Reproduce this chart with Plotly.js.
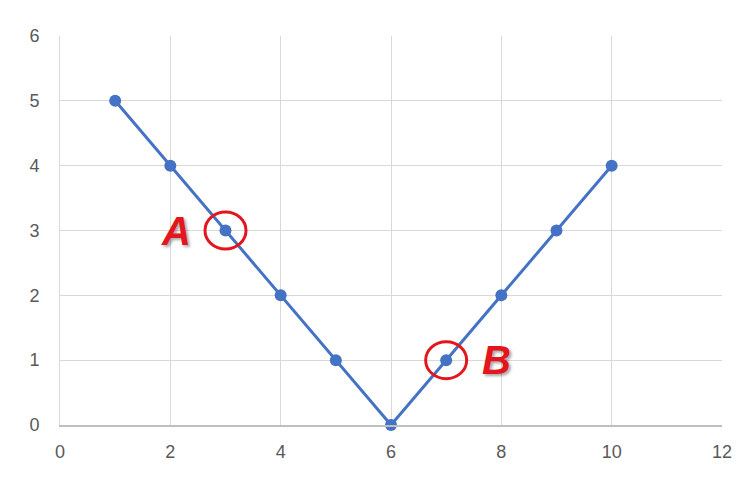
<!DOCTYPE html>
<html>
<head>
<meta charset="utf-8">
<script src="https://cdn.plot.ly/plotly-3.0.1.min.js"></script>
<style>html,body{margin:0;padding:0;background:#fff;}#chart{width:744px;height:484px;}</style>
</head>
<body>
<div id="chart"></div>
<script>
const xValues = [1, 2, 3, 4, 5, 6, 7, 8, 9, 10];
const yValues = [5, 4, 3, 2, 1, 0, 1, 2, 3, 4];
const markedX = [3, 7];
const markedY = [3, 1];
const labelText = ['A', 'B'];
const labelX = [2.1, 7.92];
const labelY = [3, 1];
const xTicks = [0, 2, 4, 6, 8, 10, 12];
const yTicks = [0, 1, 2, 3, 4, 5, 6];

const trace = {
  x: xValues, y: yValues, type: 'scatter', mode: 'lines+markers',
  line: {color: '#4472C4', width: 3},
  marker: {color: '#4472C4', size: 12},
  cliponaxis: false, hoverinfo: 'none'
};

const shapes = markedX.map((mx, i) => ({
  type: 'circle', xref: 'x', yref: 'y',
  xsizemode: 'pixel', ysizemode: 'pixel',
  xanchor: mx, yanchor: markedY[i],
  x0: -20.5, x1: 20.5, y0: -18.5, y1: 18.5,
  line: {color: '#E3161E', width: 3}
}));

const annotations = labelText.map((t, i) => ({
  x: labelX[i], y: labelY[i], xref: 'x', yref: 'y',
  text: '<b><i>' + t + '</i></b>', showarrow: false,
  font: {family: 'Liberation Sans, Arial, sans-serif', size: 40, color: '#E3161E',
         shadow: '2px 2px 3px rgba(0,0,0,0.35)'},
  xanchor: 'center', yanchor: 'middle'
}));

const layout = {
  width: 744, height: 484,
  margin: {l: 60, r: 22, t: 36, b: 59},
  paper_bgcolor: '#ffffff', plot_bgcolor: '#ffffff',
  showlegend: false,
  font: {family: 'Liberation Sans, Arial, sans-serif', size: 18, color: '#595959'},
  xaxis: {
    range: [0, 12], tickvals: xTicks, ticktext: xTicks.map(String),
    showgrid: true, gridcolor: '#d9d9d9', gridwidth: 1,
    zeroline: false, showline: true, linecolor: '#bfbfbf', linewidth: 1.5,
    mirror: false, ticks: '', ticklen: 0, ticklabelstandoff: 10,
    tickfont: {size: 18, color: '#595959'},
    fixedrange: true
  },
  yaxis: {
    range: [0, 6], tickvals: yTicks, ticktext: yTicks.map(String),
    showgrid: true, gridcolor: '#d9d9d9', gridwidth: 1,
    zeroline: false, showline: true, linecolor: '#d9d9d9', linewidth: 1,
    ticks: '', ticklabelstandoff: 16, tickfont: {size: 18, color: '#595959'},
    fixedrange: true
  },
  shapes: shapes,
  annotations: annotations
};

Plotly.newPlot('chart', [trace], layout, {displayModeBar: false, staticPlot: true});
</script>
</body>
</html>
